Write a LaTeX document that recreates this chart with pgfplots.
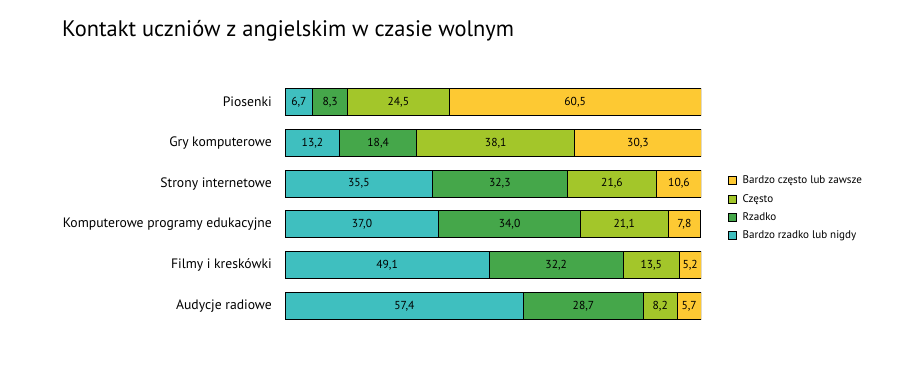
\documentclass[border=0pt]{standalone}
\usepackage{pgfplots}
\usepackage{pgfplotstable}
\pgfplotsset{compat=1.18}
\usepackage{fontspec}
\setmainfont{PT Sans}
\definecolor{cA}{HTML}{3FBFBF}
\definecolor{cB}{HTML}{45A74A}
\definecolor{cC}{HTML}{A3C62A}
\definecolor{cD}{HTML}{FDC933}
\pgfplotstableread{
y a b c d
0 6.7 8.3 24.5 60.5
1 13.2 18.4 38.1 30.3
2 35.5 32.3 21.6 10.6
3 37.0 34.0 21.1 7.8
4 49.1 32.2 13.5 5.2
5 57.4 28.7 8.2 5.7
}\data
\pgfplotstablecreatecol[create col/expr={\thisrow{a}/2}]{ma}\data
\pgfplotstablecreatecol[create col/expr={\thisrow{a}+\thisrow{b}/2}]{mb}\data
\pgfplotstablecreatecol[create col/expr={\thisrow{a}+\thisrow{b}+\thisrow{c}/2}]{mc}\data
\pgfplotstablecreatecol[create col/expr={\thisrow{a}+\thisrow{b}+\thisrow{c}+\thisrow{d}/2}]{md}\data
\pgfplotsset{common/.style={at={(285bp,53.6bp)}, anchor=south west, scale only axis,
  width=416bp, height=244.8bp, xmin=0, xmax=100, ymin=-0.5, ymax=5.5, y dir=reverse}}
\begin{document}
\begin{tikzpicture}
\path[use as bounding box] (0,0) rectangle (900bp,380bp);
\node[anchor=base west, font=\fontsize{22.5}{26}\selectfont, inner sep=0pt] at (62bp,343bp) {Kontakt uczniów z angielskim w czasie wolnym};
\begin{axis}[common,
  xbar stacked, bar width=27bp,
  xtick=\empty, ytick={0,...,5},
  yticklabels={Piosenki, Gry komputerowe, Strony internetowe, Komputerowe programy edukacyjne, Filmy i kreskówki, Audycje radiowe},
  axis line style={draw=none}, major tick length=0pt,
  yticklabel style={font=\fontsize{13.7}{15}\selectfont, inner sep=0pt, xshift=-13bp},
  legend style={at={(1.065,0.623)}, anchor=north west, draw=none, fill=none, font=\fontsize{11.1}{13}\selectfont, row sep=5bp, inner sep=0pt,
    /tikz/every odd column/.append style={column sep=3.5bp}},
  legend cell align=left, reverse legend,
  legend image code/.code={\draw[#1, line width=0.9pt] (0bp,-4bp) rectangle (8bp,4bp);},
]
\addplot[fill=cA, draw=black, line width=1pt] table[x=a,y=y] {\data};
\addplot[fill=cB, draw=black, line width=1pt] table[x=b,y=y] {\data};
\addplot[fill=cC, draw=black, line width=1pt] table[x=c,y=y] {\data};
\addplot[fill=cD, draw=black, line width=1pt] table[x=d,y=y] {\data};
\legend{Bardzo rzadko lub nigdy, Rzadko, Często, Bardzo często lub zawsze}
\end{axis}
\begin{axis}[common, hide axis,
  nodes near coords={\pgfmathprintnumber[fixed, fixed zerofill, precision=1, use comma, assume math mode=true]{\pgfplotspointmeta}},
  every node near coord/.style={anchor=center, inner sep=0pt, font=\fontsize{11.6}{13}\selectfont, text=black},
  point meta=explicit]
\addplot[draw=none, mark=none] table[x=ma,y=y,meta=a] {\data};
\addplot[draw=none, mark=none] table[x=mb,y=y,meta=b] {\data};
\addplot[draw=none, mark=none] table[x=mc,y=y,meta=c] {\data};
\addplot[draw=none, mark=none] table[x=md,y=y,meta=d] {\data};
\end{axis}
\end{tikzpicture}
\end{document}
